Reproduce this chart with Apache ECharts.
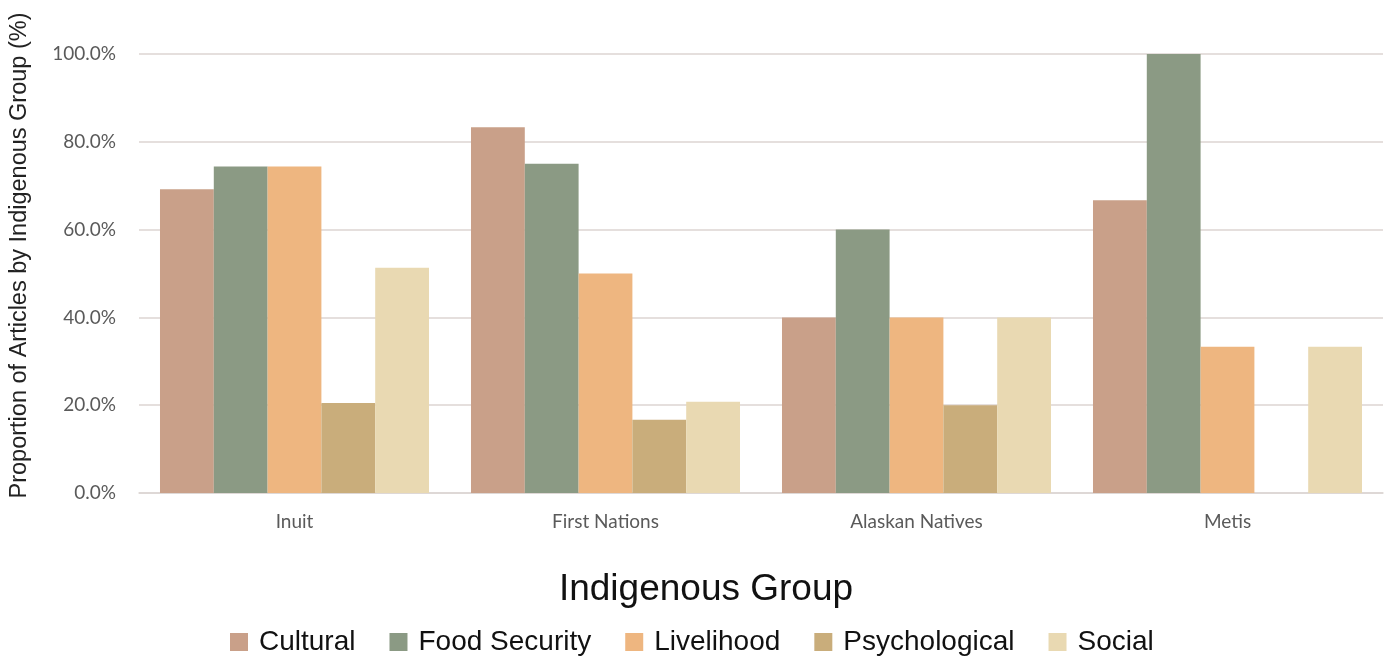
<!DOCTYPE html>
<html>
<head>
<meta charset="utf-8">
<title>Proportion of Articles by Indigenous Group</title>
<script src="https://cdn.jsdelivr.net/npm/echarts@6/dist/echarts.min.js"></script>
<style>
  html, body { margin: 0; padding: 0; background: #ffffff; }
  #chart { width: 1390px; height: 657px; }
</style>
</head>
<body>
<div id="chart"></div>
<script>
// Indigenous groups along the x axis
const groups = ['Inuit', 'First Nations', 'Alaskan Natives', 'Metis'];

// Share of articles (%) per theme, one value per group
const cultural      = [69.2, 83.3, 40.0, 66.7];
const foodSecurity  = [74.4, 75.0, 60.0, 100.0];
const livelihood    = [74.4, 50.0, 40.0, 33.3];
const psychological = [20.5, 16.7, 20.0, 0.0];
const social        = [51.3, 20.8, 40.0, 33.3];

// Y axis ticks: 0.0% .. 100.0% every 20
const yTicks = [0, 20, 40, 60, 80, 100];

const themes = [
  { name: 'Cultural',      data: cultural,      color: '#c9a089' },
  { name: 'Food Security', data: foodSecurity,  color: '#8b9a84' },
  { name: 'Livelihood',    data: livelihood,    color: '#eeb680' },
  { name: 'Psychological', data: psychological, color: '#c9ad7b' },
  { name: 'Social',        data: social,        color: '#e9d9b2' }
];

const chart = echarts.init(document.getElementById('chart'), null, { renderer: 'canvas' });

chart.setOption({
  backgroundColor: '#ffffff',
  animation: false,
  grid: { left: 139, right: 7, top: 54, bottom: 164, containLabel: false, outerBoundsMode: 'none' },
  legend: {
    data: themes.map(t => t.name),
    left: 225,
    top: 623,
    icon: 'rect',
    itemWidth: 18,
    itemHeight: 18,
    itemGap: 34,
    textStyle: { fontFamily: 'Liberation Sans, Arial, sans-serif', fontSize: 28, color: '#111111', padding: [0, 0, 0, 6] }
  },
  xAxis: {
    type: 'category',
    data: groups,
    name: 'Indigenous Group',
    nameLocation: 'middle',
    nameGap: 78,
    nameTextStyle: {
      fontFamily: 'Liberation Sans, Arial, sans-serif',
      fontSize: 37,
      color: '#111111',
      padding: [0, 110, 0, 0]
    },
    axisLine: { lineStyle: { color: '#dcd6d3', width: 1.5 } },
    axisTick: { show: false },
    axisLabel: { margin: 19, fontFamily: 'Lato, Open Sans, sans-serif', fontSize: 19, color: '#5a5a5a' }
  },
  yAxis: {
    type: 'value',
    min: yTicks[0],
    max: yTicks[yTicks.length - 1],
    interval: yTicks[1] - yTicks[0],
    name: 'Proportion of Articles by Indigenous Group (%)',
    nameLocation: 'middle',
    nameRotate: 90,
    nameGap: 107,
    nameTextStyle: { fontFamily: 'Liberation Sans, Arial, sans-serif', fontSize: 23.5, color: '#222222', padding: [0, 0, 0, 36] },
    axisLine: { show: false },
    axisTick: { show: false },
    splitLine: { lineStyle: { color: '#ddd5d2', width: 1.5 } },
    axisLabel: {
      margin: 23,
      fontFamily: 'Lato, Open Sans, sans-serif',
      fontSize: 19,
      color: '#5a5a5a',
      formatter: v => v.toFixed(1) + '%'
    }
  },
  series: themes.map(t => ({
    name: t.name,
    type: 'bar',
    data: t.data,
    barGap: '0%',
    barCategoryGap: '13.5%',
    itemStyle: { color: t.color }
  }))
});
</script>
</body>
</html>
